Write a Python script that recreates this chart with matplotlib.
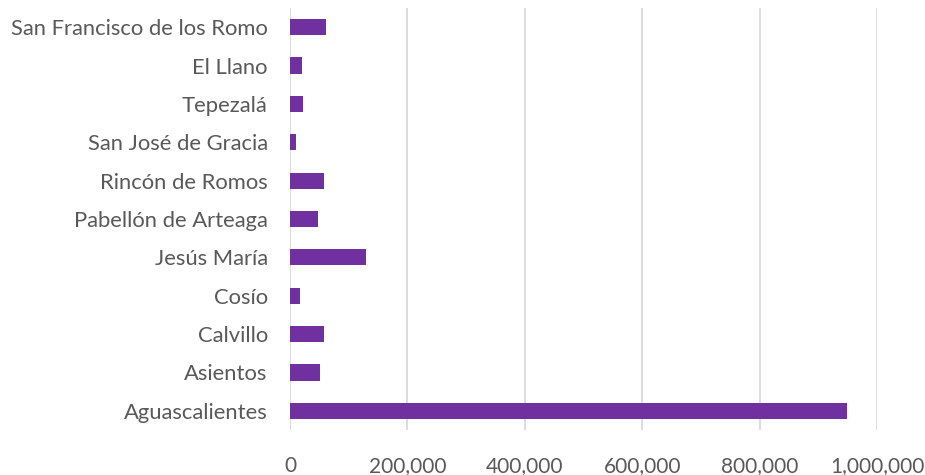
import matplotlib
matplotlib.use('Agg')
import matplotlib.pyplot as plt
from matplotlib.ticker import FuncFormatter

# municipios de Aguascalientes, población
municipios = ['Aguascalientes', 'Asientos', 'Calvillo', 'Cosío', 'Jesús María',
              'Pabellón de Arteaga', 'Rincón de Romos', 'San José de Gracia',
              'Tepezalá', 'El Llano', 'San Francisco de los Romo']
poblacion = [948990, 51536, 58250, 17000, 129929, 47646, 57369, 9552,
             22485, 20853, 61997]
xticks = [0, 200000, 400000, 600000, 800000, 1000000]

plt.rcParams['font.family'] = ['Lato', 'DejaVu Sans']
gris = '#595959'

fig = plt.figure(figsize=(9.25, 4.75), dpi=100)
ax = fig.add_axes([290/925, 1-430/475, (877-290)/925, (430-8)/475])

ax.barh(range(len(municipios)), poblacion, height=0.42, color='#7030A0', zorder=3)
ax.set_yticks(range(len(municipios)))
ax.set_yticklabels(municipios)
ax.set_ylim(-0.5, len(municipios) - 0.5)
ax.set_xlim(0, 1000000)
ax.set_xticks(xticks)
ax.xaxis.set_major_formatter(FuncFormatter(lambda v, p: f'{int(v):,}'))

ax.grid(axis='x', color='#D9D9D9', linewidth=1.3, zorder=0)
ax.grid(axis='y', visible=False)
for s in ax.spines.values():
    s.set_visible(False)
ax.tick_params(axis='both', length=0, labelcolor=gris)
ax.tick_params(axis='y', pad=16, labelsize=15.8)
ax.tick_params(axis='x', pad=19, labelsize=15)

fig.savefig('out.png', dpi=100)
